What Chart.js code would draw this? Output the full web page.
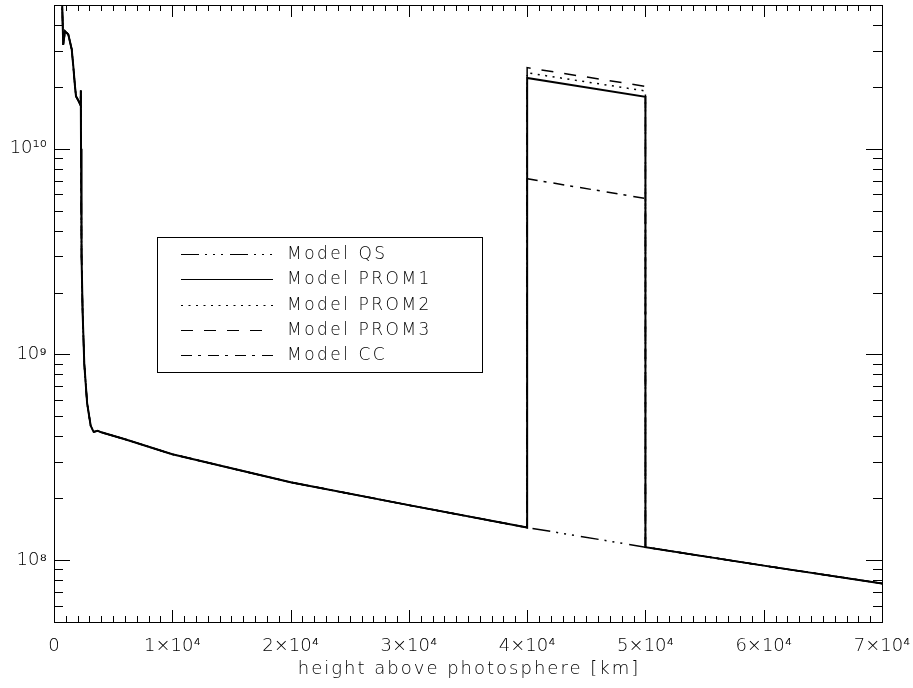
<!DOCTYPE html>
<html>
<head>
<meta charset="utf-8">
<script src="https://cdn.jsdelivr.net/npm/chart.js@4.4.1/dist/chart.umd.min.js"></script>
<style>
  html, body { margin: 0; padding: 0; background: #fff; }
  #wrap { width: 913px; height: 688px; }
</style>
</head>
<body>
<div id="wrap"><canvas id="densChart" width="913" height="688"></canvas></div>
<script>
// height above photosphere [km] and density of the common atmosphere
const baseHeight = [600, 780, 930, 1210, 1500, 1630, 1775, 1860, 2050, 2240, 2265, 2285, 2330, 2420, 2560, 2800, 3100, 3350, 3700, 4000, 6000, 10000, 20000, 30000, 40000, 50000, 60000, 70000];
const baseDensity = [8e10, 3.2e10, 3.73e10, 3.59e10, 3.04e10, 2.52e10, 2.01e10, 1.8e10, 1.72e10, 1.63e10, 1.92e10, 1.0e10, 3.0e9, 1.6e9, 9.0e8, 5.8e8, 4.5e8, 4.2e8, 4.25e8, 4.18e8, 3.87e8, 3.27e8, 2.39e8, 1.85e8, 1.44e8, 1.156e8, 9.4e7, 7.7e7];

// prominence slab (start / end height) and its density in each model
const promHeight = [40000, 50000];
const prom1 = [2.21e10, 1.79e10];
const prom2 = [2.34e10, 1.91e10];
const prom3 = [2.48e10, 2.01e10];
const promCC = [7.15e9, 5.73e9];

const modelNames = ['Model QS', 'Model PROM1', 'Model PROM2', 'Model PROM3', 'Model CC'];
const xTicks = [0, 10000, 20000, 30000, 40000, 50000, 60000, 70000];
const yDecades = [8, 9, 10];
const xTitle = 'height above photosphere [km]';

const FONT = '"DejaVu Sans", "Liberation Sans", sans-serif';
const SUP = {'0':'⁰','1':'¹','2':'²','3':'³','4':'⁴','5':'⁵','6':'⁶','7':'⁷','8':'⁸','9':'⁹'};
const sup = s => String(s).split('').map(c => SUP[c]).join('');

function basePoints() {
    return baseHeight.map((h, i) => ({ x: h, y: baseDensity[i] }));
}
function withProminence(vals) {
    const pts = basePoints();
    const lo = pts.filter(p => p.x <= promHeight[0]);
    const hi = pts.filter(p => p.x >= promHeight[1]);
    return lo.concat([
        { x: promHeight[0], y: vals[0] },
        { x: promHeight[1], y: vals[1] }
    ], hi);
}

// cadre + ticks pointing inwards, IDL style
const frameTicks = {
    id: 'frameTicks',
    beforeDraw(chart) {
        const c = chart.ctx;
        c.save();
        c.fillStyle = '#fff';
        c.fillRect(0, 0, chart.width, chart.height);
        c.restore();
    },
    afterDraw(chart) {
        const c = chart.ctx, a = chart.chartArea;
        const xs = chart.scales.x, ys = chart.scales.y;
        c.save();
        c.strokeStyle = '#000';
        c.lineWidth = 1;
        c.strokeRect(Math.round(a.left) + 0.5, Math.round(a.top) + 0.5, Math.round(a.right - a.left), Math.round(a.bottom - a.top));
        c.beginPath();
        for (let v = xs.min; v <= xs.max; v += 1000) {
            const px = Math.round(xs.getPixelForValue(v)) + 0.5;
            const len = (v % 10000 === 0) ? 12 : 6;
            c.moveTo(px, a.bottom); c.lineTo(px, a.bottom - len);
            c.moveTo(px, a.top); c.lineTo(px, a.top + len);
        }
        for (let d = 7; d <= 10; d++) {
            for (let m = 1; m <= 9; m++) {
                const v = m * Math.pow(10, d);
                if (v < ys.min * 0.999 || v > ys.max * 1.001) continue;
                const py = Math.round(ys.getPixelForValue(v)) + 0.5;
                const len = (m === 1) ? 16 : 9;
                c.moveTo(a.left, py); c.lineTo(a.left + len, py);
                c.moveTo(a.right, py); c.lineTo(a.right - len, py);
            }
        }
        c.stroke();

        // x title, wide spacing like the vector font
        c.font = '200 18px ' + FONT;
        c.fillStyle = '#000';
        c.textAlign = 'center';
        c.textBaseline = 'middle';
        c.letterSpacing = '2px';
        c.fillText(xTitle, (a.left + a.right) / 2 + 1, 669);
        c.restore();
    }
};

// legend box inside the plot
const boxLegend = {
    id: 'boxLegend',
    afterDraw(chart) {
        const c = chart.ctx;
        c.save();
        c.strokeStyle = '#000';
        c.lineWidth = 1;
        c.strokeRect(157.5, 237.5, 325, 135);
        c.font = '200 17px ' + FONT;
        c.fillStyle = '#000';
        c.textBaseline = 'middle';
        c.letterSpacing = '2.5px';
        chart.data.datasets.forEach((ds, i) => {
            const y = Math.round(254 + i * 25.3) + 0.5;
            c.setLineDash(ds.borderDash || []);
            c.lineWidth = 1;
            c.beginPath();
            c.moveTo(181, y); c.lineTo(273, y);
            c.stroke();
            c.setLineDash([]);
            c.fillText(ds.label, 287, y);
        });
        c.restore();
    }
};

const ctx = document.getElementById('densChart').getContext('2d');
new Chart(ctx, {
    type: 'line',
    data: {
        datasets: [{
            label: modelNames[0],
            data: basePoints(),
            borderDash: [18, 6, 2, 6, 2, 6, 2, 7],
            borderWidth: 1.5,
            order: 1
        }, {
            label: modelNames[1],
            data: withProminence(prom1),
            borderDash: [],
            borderWidth: 2,
            order: 0
        }, {
            label: modelNames[2],
            data: withProminence(prom2),
            borderDash: [2, 5.5],
            borderWidth: 1.5,
            order: 1
        }, {
            label: modelNames[3],
            data: withProminence(prom3),
            borderDash: [12, 11],
            borderWidth: 1.5,
            order: 1
        }, {
            label: modelNames[4],
            data: withProminence(promCC),
            borderDash: [11, 6, 3, 7],
            borderWidth: 1.5,
            order: 1
        }]
    },
    options: {
        responsive: false,
        animation: false,
        devicePixelRatio: 1,
        borderColor: '#000',
        elements: {
            line: { borderColor: '#000', tension: 0, fill: false, borderCapStyle: 'butt' },
            point: { radius: 0, hoverRadius: 0 }
        },
        layout: { padding: { left: 0, top: 5, right: 31, bottom: 0 } },
        plugins: { legend: { display: false }, tooltip: { enabled: false } },
        scales: {
            x: {
                type: 'linear',
                min: 0,
                max: 70000,
                afterFit: s => { s.height = 66; s.paddingLeft = 0; s.paddingRight = 0; },
                afterBuildTicks: s => { s.ticks = xTicks.map(v => ({ value: v })); },
                grid: { display: false, drawTicks: false },
                border: { display: false },
                ticks: {
                    autoSkip: false,
                    maxRotation: 0,
                    padding: 14,
                    color: '#000',
                    font: { family: FONT, size: 18, weight: '200' },
                    callback: v => v === 0 ? '0' : (v / 10000) + '×10' + sup(4)
                },
                title: { display: false }
            },
            y: {
                type: 'logarithmic',
                min: 5e7,
                max: 5e10,
                afterFit: s => { s.width = 54; s.paddingTop = 0; s.paddingBottom = 0; },
                afterBuildTicks: s => { s.ticks = yDecades.map(d => ({ value: Math.pow(10, d) })); },
                grid: { display: false, drawTicks: false },
                border: { display: false },
                ticks: {
                    autoSkip: false,
                    padding: 7,
                    color: '#000',
                    font: { family: FONT, size: 18, weight: '200' },
                    callback: v => '10' + sup(Math.round(Math.log10(v)))
                }
            }
        }
    },
    plugins: [frameTicks, boxLegend]
});
</script>
</body>
</html>
